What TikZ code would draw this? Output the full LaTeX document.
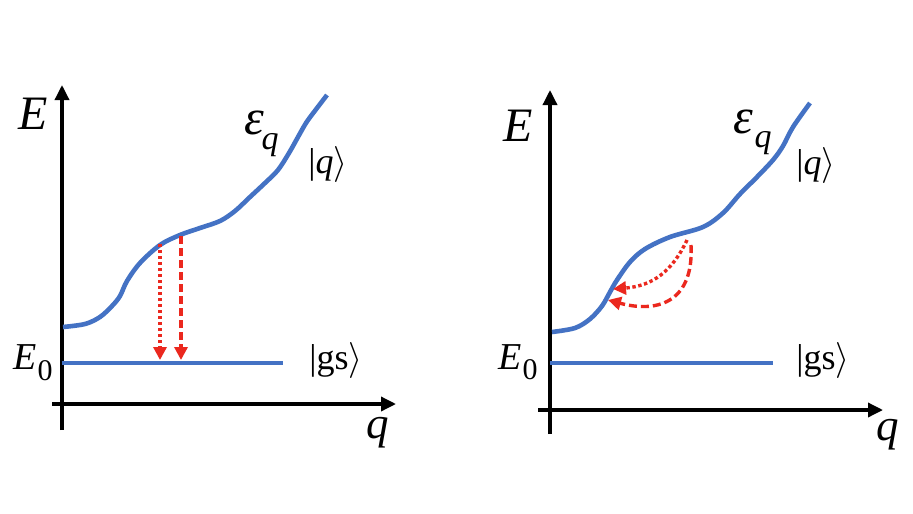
\documentclass[tikz,border=0pt]{standalone}
\usepackage{fix-cm}
\usepackage{fontspec}
\setmainfont{Liberation Serif}[ItalicFont={Liberation Serif Italic},BoldFont={Liberation Serif Bold}]
\usetikzlibrary{arrows.meta}
\definecolor{cblue}{RGB}{68,114,196}
\definecolor{cred}{RGB}{235,40,30}
\tikzset{
  axis/.style={line width=3.4pt,-{Triangle[length=15pt,width=14pt]}},
  level/.style={line width=4.6pt,cblue},
  disp/.style={line width=4.6pt,cblue,smooth,tension=0.55},
  tr/.style={line width=3.4pt,cred,-{Triangle[length=13pt,width=13pt]}},
  dotline/.style={dash pattern=on 3.4pt off 2.6pt},
  dashline/.style={dash pattern=on 8pt off 4pt},
  lbl/.style={inner sep=0pt},
}
\newcommand{\fs}[1]{\fontsize{#1}{#1}\selectfont}
\newcommand{\rket}{\ensuremath{\rangle}}
\begin{document}
\begin{tikzpicture}[x=1pt,y=-1pt]
\path[fill=white,use as bounding box] (0,0) rectangle (913,514);
% ---------- left panel ----------
\coordinate (LyB) at (62,430);
\coordinate (LyT) at (62,85);
\coordinate (LxL) at (52,404);
\coordinate (LxR) at (396,404);
\draw[axis] (LyB) -- (LyT);
\draw[axis] (LxL) -- (LxR);
\coordinate (Lg0) at (62,363);
\coordinate (Lg1) at (283,363);
\draw[level] (Lg0) -- (Lg1);
\draw[disp] plot coordinates {(63,327) (85,324) (100,317) (112,306) (120,296) (127,281) (140,263) (160,245) (180,235) (200,228) (220,221) (235,211) (250,197) (265,183) (278,170) (289,153) (298,137) (306,123) (314,112) (327,95)};
\coordinate (La1) at (160,244);
\coordinate (La2) at (160,360);
\coordinate (Lb1) at (181,236);
\coordinate (Lb2) at (181,360);
\draw[tr,dotline] (La1) -- (La2);
\draw[tr,dashline] (Lb1) -- (Lb2);
\node[lbl] (LE) at (33,114) {\fs{48}\textit{E}};
\node[lbl] (LE0) at (25,357) {\fs{38}\textit{E}};
\node[lbl] (LE0s) at (45,371) {\fs{30}0};
\node[lbl] (Leps) at (254,123) {\fs{50}\textit{ε}};
\node[lbl] (Lepsq) at (270,145) {\fs{34}\textit{q}};
\node[lbl] (Lket) at (328,164) {\fs{36}|\textit{q}\rket};
\node[lbl] (Lgs) at (336,360) {\fs{36}|gs\rket};
\node[lbl] (Lq) at (378,433) {\fs{45}\textit{q}};
% ---------- right panel ----------
\coordinate (RyB) at (550,434);
\coordinate (RyT) at (550,90);
\coordinate (RxL) at (538,410);
\coordinate (RxR) at (883,410);
\draw[axis] (RyB) -- (RyT);
\draw[axis] (RxL) -- (RxR);
\coordinate (Rg0) at (550,363);
\coordinate (Rg1) at (773,363);
\draw[level] (Rg0) -- (Rg1);
\draw[disp] plot coordinates {(552,332) (575,328) (590,319) (602,306) (610,292) (617,280) (630,262) (645,249) (670,237) (703,227) (723,213) (740,194) (757,177) (773,160) (783,146) (793,127) (810,103)};
\coordinate (Ra1) at (687,240);
\coordinate (Ra2) at (613,289);
\coordinate (Rb1) at (691,245);
\coordinate (Rb2) at (608,300);
\draw[tr,dotline] (Ra1) .. controls (672,272) and (652,286) .. (Ra2);
\draw[tr,dashline] (Rb1) .. controls (694,300) and (660,314) .. (Rb2);
\node[lbl] (RE) at (518,126) {\fs{48}\textit{E}};
\node[lbl] (RE0) at (510,357) {\fs{38}\textit{E}};
\node[lbl] (RE0s) at (530,370) {\fs{30}0};
\node[lbl] (Reps) at (743,122) {\fs{50}\textit{ε}};
\node[lbl] (Repsq) at (763,143) {\fs{34}\textit{q}};
\node[lbl] (Rket) at (816,165) {\fs{36}|\textit{q}\rket};
\node[lbl] (Rgs) at (823,360) {\fs{36}|gs\rket};
\node[lbl] (Rq) at (888,435) {\fs{45}\textit{q}};
\end{tikzpicture}
\end{document}
